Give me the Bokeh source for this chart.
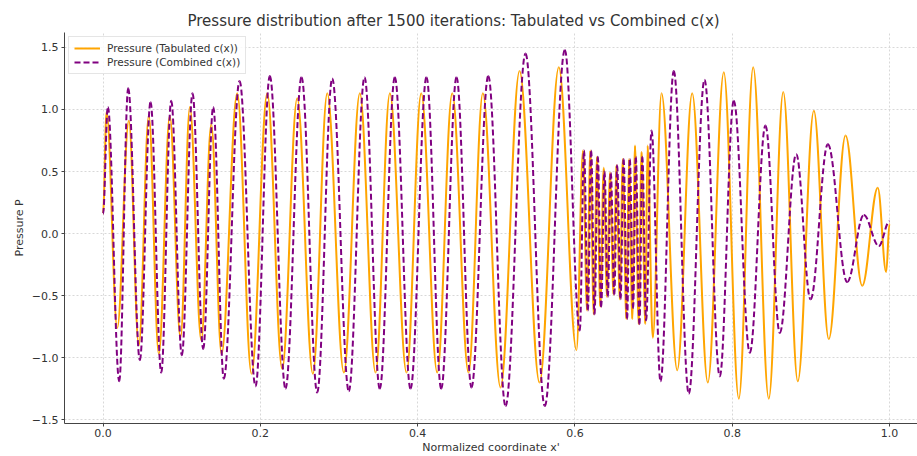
import numpy as np
from bokeh.plotting import figure
from bokeh.models import Range1d, FixedTicker, Legend, LegendItem, ColumnDataSource
from bokeh.embed import file_html
from bokeh.resources import INLINE

# Extrema (x, P)
tabulated = [
    (0.0000, 0.16), (0.0045, 0.98), (0.0181, -0.76), (0.0328, 0.91), (0.0455, -0.90),
    (0.0582, 0.95), (0.0709, -0.97), (0.0849, 0.95), (0.0985, -0.84), (0.1104, 1.02),
    (0.1249, -0.86), (0.1376, 0.88), (0.1507, -0.97), (0.1706, 1.13), (0.1888, -1.13),
    (0.2088, 1.13), (0.2278, -1.09), (0.2469, 1.09), (0.2668, -1.13), (0.2851, 1.13),
    (0.3062, -1.12), (0.3265, 1.13), (0.3465, -1.12), (0.3647, 1.13), (0.3859, -1.12),
    (0.4046, 1.13), (0.4249, -1.12), (0.4440, 1.13), (0.4647, -1.12), (0.4829, 1.13),
    (0.5054, -1.24), (0.5296, 1.31), (0.5550, -1.20), (0.5795, 1.34), (0.6020, -0.94),
    (0.6103, 0.67), (0.6154, -0.62), (0.6196, 0.67), (0.6239, -0.65), (0.6281, 0.62),
    (0.6323, -0.59), (0.6366, 0.53), (0.6408, -0.51), (0.6446, 0.49), (0.6491, -0.49),
    (0.6526, 0.55), (0.6571, -0.53), (0.6609, 0.60), (0.6654, -0.69), (0.6688, 0.60),
    (0.6730, -0.69), (0.6764, 0.71), (0.6811, -0.73), (0.6847, 0.66), (0.6895, -0.73),
    (0.6923, 0.71), (0.6990, -0.84), (0.7101, 1.13), (0.7301, -1.10), (0.7491, 1.13),
    (0.7690, -1.20), (0.7893, 1.30), (0.8084, -1.33), (0.8267, 1.34), (0.8465, -1.33),
    (0.8649, 1.14), (0.8834, -1.19), (0.9038, 0.99), (0.9228, -0.85), (0.9441, 0.79),
    (0.9653, -0.42), (0.9851, 0.37), (0.9958, -0.31), (1.0000, 0.08),
]

combined = [
    (0.0000, 0.16), (0.0061, 1.02), (0.0206, -1.19), (0.0320, 1.17), (0.0468, -1.02),
    (0.0604, 1.06), (0.0740, -1.12), (0.0867, 1.07), (0.1002, -0.98), (0.1138, 1.13),
    (0.1274, -0.93), (0.1401, 1.02), (0.1536, -1.17), (0.1736, 1.23), (0.1939, -1.23),
    (0.2121, 1.27), (0.2320, -1.25), (0.2524, 1.26), (0.2723, -1.28), (0.2914, 1.25),
    (0.3125, -1.27), (0.3325, 1.26), (0.3519, -1.25), (0.3710, 1.26), (0.3910, -1.25),
    (0.4113, 1.26), (0.4300, -1.25), (0.4495, 1.26), (0.4685, -1.24), (0.4898, 1.27),
    (0.5118, -1.39), (0.5372, 1.45), (0.5617, -1.39), (0.5872, 1.48), (0.6062, -0.78),
    (0.6116, 0.67), (0.6164, -0.62), (0.6207, 0.67), (0.6249, -0.65), (0.6291, 0.62),
    (0.6334, -0.59), (0.6376, 0.50), (0.6418, -0.51), (0.6456, 0.49), (0.6501, -0.49),
    (0.6537, 0.55), (0.6580, -0.53), (0.6619, 0.60), (0.6664, -0.69), (0.6698, 0.60),
    (0.6740, -0.60), (0.6774, 0.62), (0.6821, -0.73), (0.6857, 0.62), (0.6905, -0.70),
    (0.6974, 0.83), (0.7088, -1.19), (0.7257, 1.31), (0.7448, -1.29), (0.7648, 1.24),
    (0.7842, -1.15), (0.8020, 1.07), (0.8224, -0.96), (0.8423, 0.87), (0.8605, -0.80),
    (0.8814, 0.64), (0.8996, -0.53), (0.9216, 0.72), (0.9462, -0.39), (0.9673, 0.15),
    (0.9864, -0.10), (1.0000, 0.10),
]

x_ticks = [0.0, 0.2, 0.4, 0.6, 0.8, 1.0]
y_ticks = [-1.5, -1.0, -0.5, 0.0, 0.5, 1.0, 1.5]

title_text = "Pressure distribution after 1500 iterations: Tabulated vs Combined c(x)"
x_label = "Normalized coordinate x'"
y_label = "Pressure P"
label_tab = "Pressure (Tabulated c(x))"
label_comb = "Pressure (Combined c(x))"
FONT = "DejaVu Sans"


def segments(pts, k=0.3642):
    a = np.array(pts, dtype=float)
    x, y = a[:, 0], a[:, 1]
    x0, y0, x1, y1 = x[:-1], y[:-1], x[1:], y[1:]
    dx = x1 - x0
    return dict(x0=x0, y0=y0, x1=x1, y1=y1,
                cx0=x0 + k * dx, cy0=y0, cx1=x1 - k * dx, cy1=y1)


p = figure(width=917, height=456, output_backend="svg", toolbar_location=None,
           x_range=Range1d(-0.049, 1.0356), y_range=Range1d(-1.53, 1.62),
           min_border_left=64, min_border_right=0, min_border_top=32, min_border_bottom=20)

p.outline_line_color = None
p.background_fill_color = "white"
p.border_fill_color = "white"

r1 = p.bezier(x0="x0", y0="y0", x1="x1", y1="y1", cx0="cx0", cy0="cy0", cx1="cx1", cy1="cy1",
              source=ColumnDataSource(segments(tabulated)),
              line_color="#FFA500", line_width=2)
r2 = p.bezier(x0="x0", y0="y0", x1="x1", y1="y1", cx0="cx0", cy0="cy0", cx1="cx1", cy1="cy1",
              source=ColumnDataSource(segments(combined)),
              line_color="#800080", line_width=2, line_dash="6 3")

# title
p.title.text = title_text
p.title.text_font = FONT
p.title.text_font_size = "15px"
p.title.text_font_style = "normal"
p.title.text_color = "#333333"
p.title.align = "left"
p.title.offset = 123
p.title.standoff = 6

# axes
for ax in (p.xaxis[0], p.yaxis[0]):
    ax.axis_line_color = "#444444"
    ax.major_tick_line_color = "#444444"
    ax.minor_tick_line_color = None
    ax.major_tick_out = 3
    ax.major_tick_in = 0
    ax.major_label_text_font = FONT
    ax.major_label_text_font_size = "11px"
    ax.major_label_text_color = "#333333"
    ax.axis_label_text_font = FONT
    ax.axis_label_text_font_size = "11px"
    ax.axis_label_text_font_style = "normal"
    ax.axis_label_text_color = "#333333"
    ax.major_label_standoff = 3
    ax.axis_label_standoff = 3

p.xaxis.major_label_standoff = 2
p.xaxis.axis_label_standoff = 1

p.xaxis.ticker = FixedTicker(ticks=x_ticks)
p.yaxis.ticker = FixedTicker(ticks=y_ticks)
p.xaxis.major_label_overrides = {v: f"{v:.1f}" for v in x_ticks}
p.yaxis.major_label_overrides = {v: f"{v:.1f}".replace("-", "\u2212") for v in y_ticks}
p.xaxis.axis_label = x_label
p.yaxis.axis_label = y_label

p.xgrid.ticker = FixedTicker(ticks=x_ticks)
p.ygrid.ticker = FixedTicker(ticks=y_ticks)
for g in (p.xgrid[0], p.ygrid[0]):
    g.grid_line_color = "#d8d8d8"
    g.grid_line_dash = "2 2"
    g.grid_line_width = 1

legend = Legend(items=[LegendItem(label=label_tab, renderers=[r1], index=0),
                       LegendItem(label=label_comb, renderers=[r2], index=0)],
                location="top_left")
legend.label_text_font = FONT
legend.label_text_font_size = "10.5px"
legend.label_text_color = "#333333"
legend.glyph_width = 26
legend.glyph_height = 12
legend.label_standoff = 7
legend.label_height = 12
legend.spacing = 2
legend.padding = 5
legend.margin = 4
legend.border_line_color = "#cccccc"
legend.border_line_width = 1
legend.background_fill_alpha = 0.85
p.add_layout(legend)

open("out.html", "w").write(file_html(p, INLINE))
